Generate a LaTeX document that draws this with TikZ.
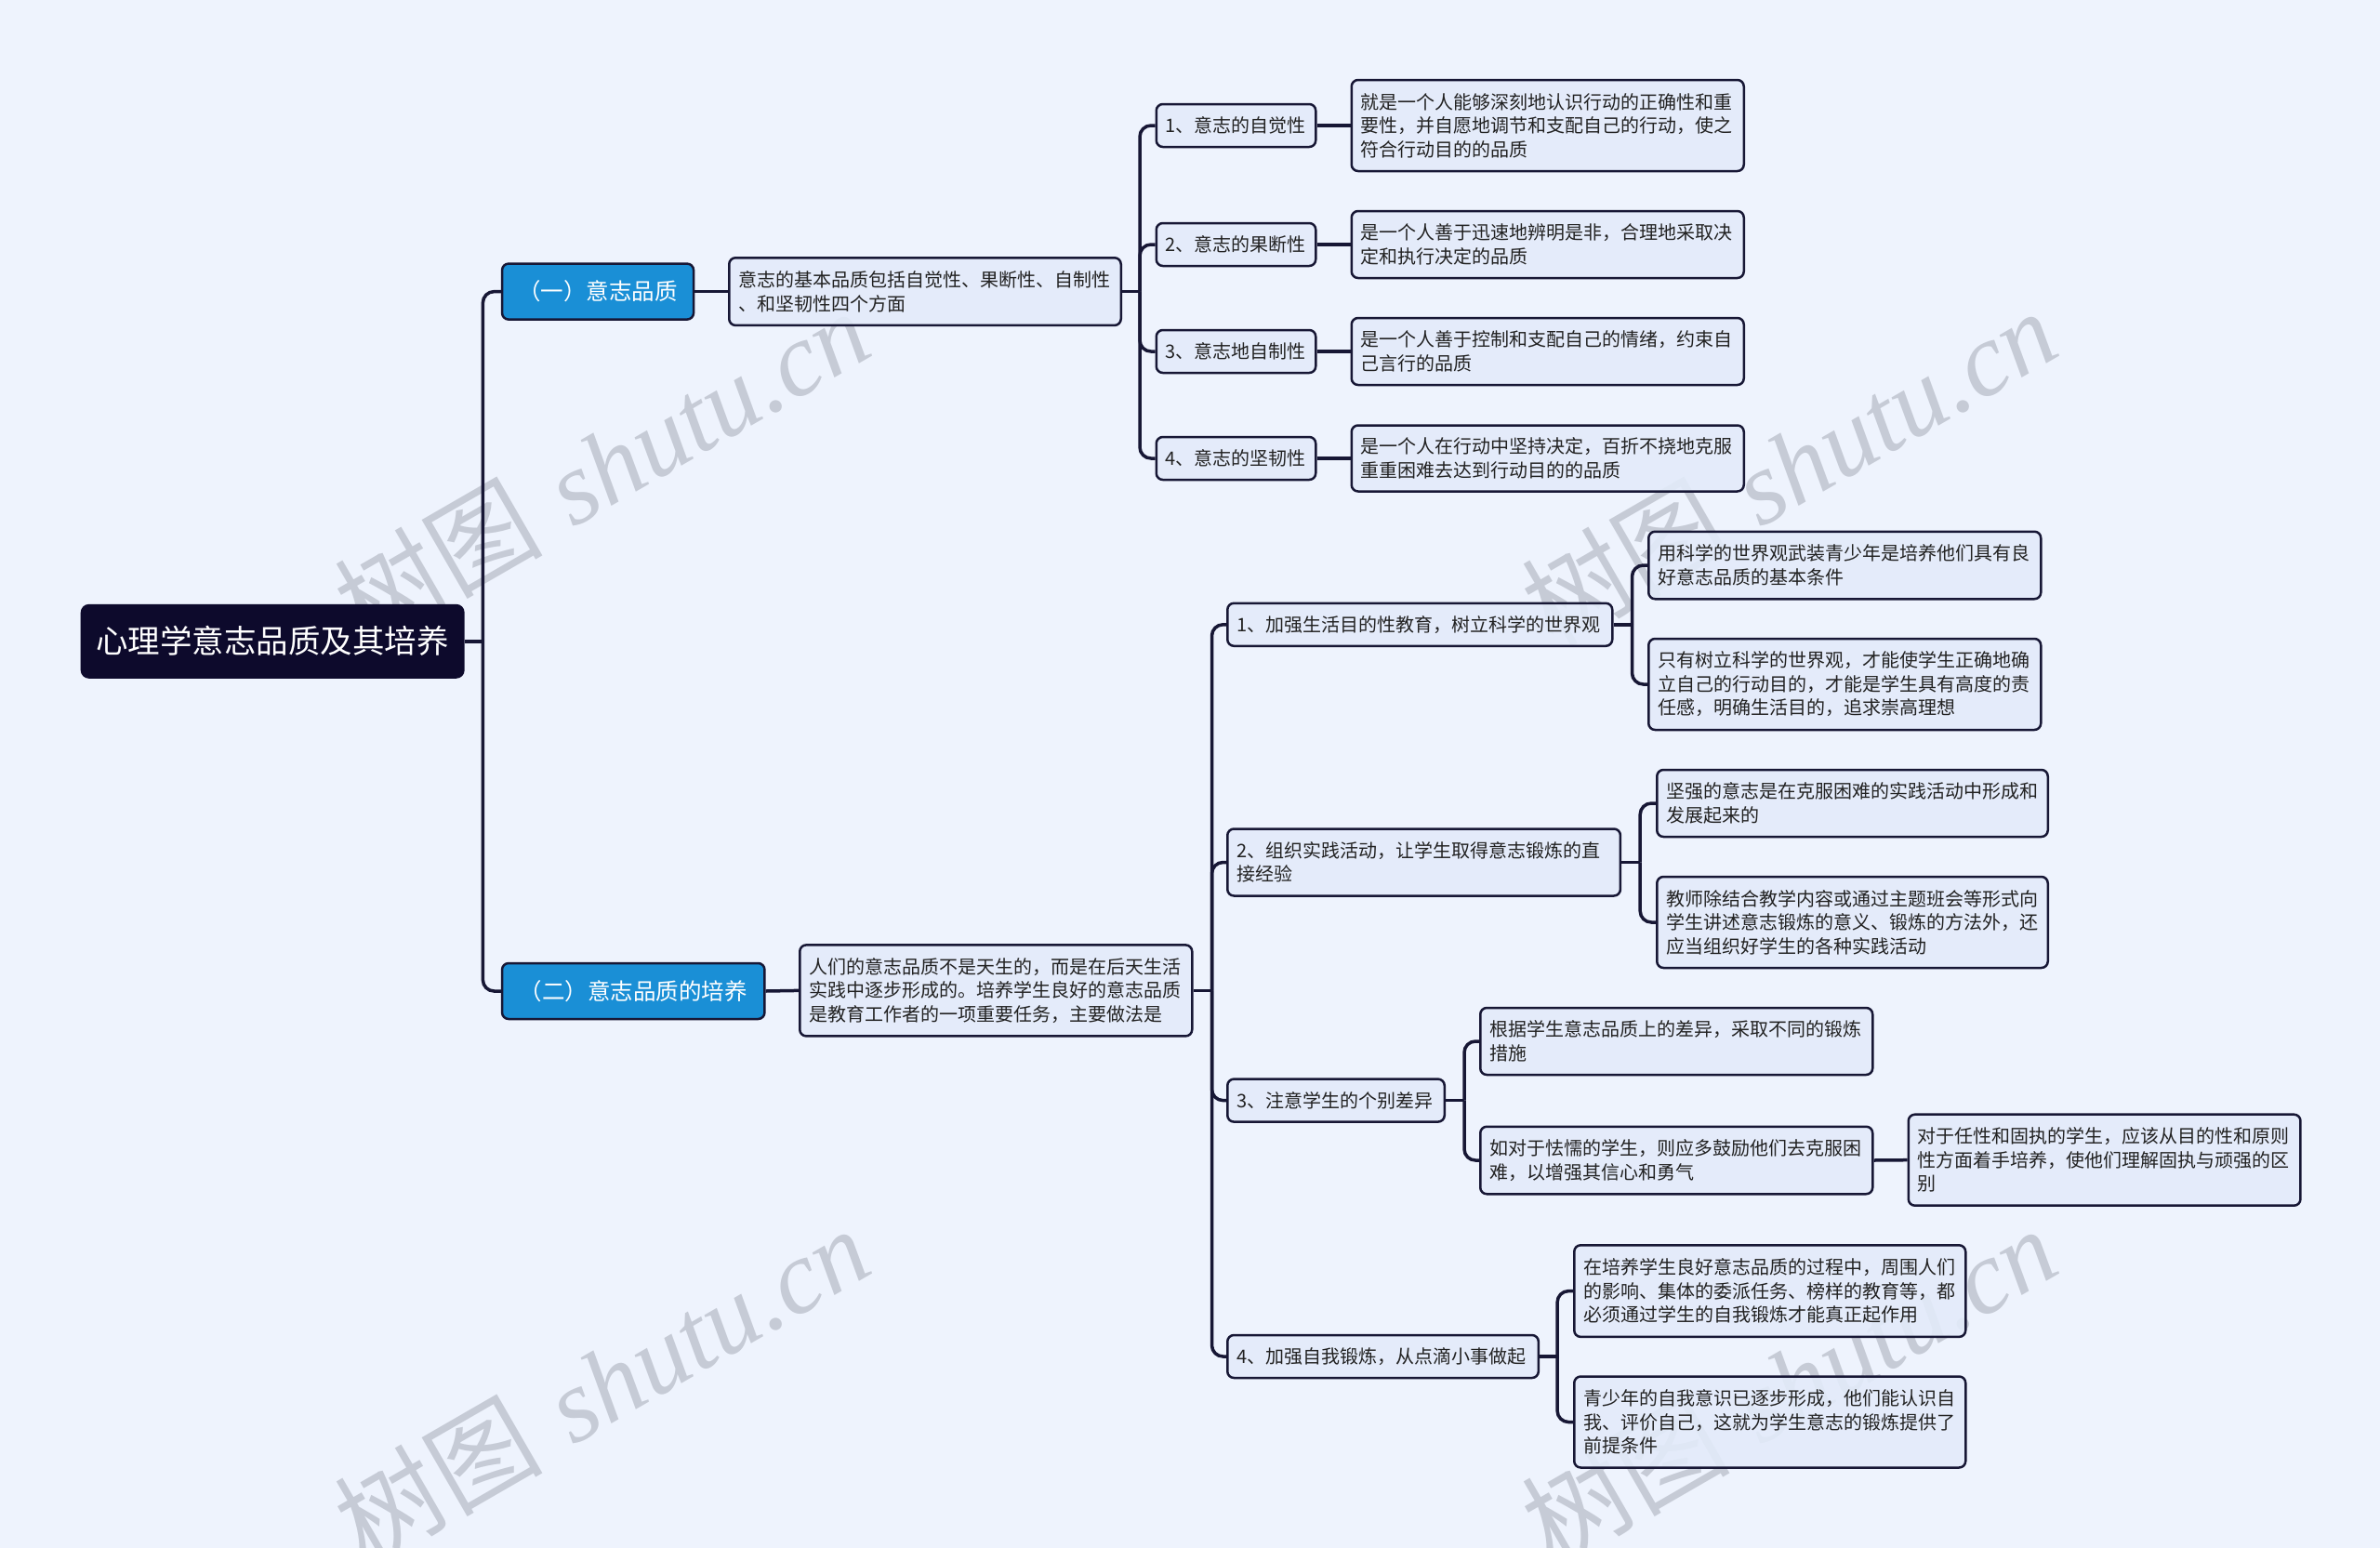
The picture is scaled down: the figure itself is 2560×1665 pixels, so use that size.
\documentclass[tikz,border=0pt]{standalone}
\usepackage{fontspec}
\newfontfamily\cjk{Noto Sans CJK SC}
\newfontfamily\wmserif{Liberation Serif}
\usetikzlibrary{calc}
\definecolor{bgcol}{HTML}{EEF3FD}
\definecolor{boxfill}{HTML}{E3EBFA}
\definecolor{edgecol}{HTML}{171735}
\definecolor{rootcol}{HTML}{0D0A2C}
\definecolor{lonecol}{HTML}{1A8FD6}
\definecolor{textcol}{HTML}{222222}
\definecolor{wmcol}{HTML}{C6CBD6}
\pgfdeclarelayer{bg}
\pgfsetlayers{bg,main}
\tikzset{
  box/.style={draw=edgecol, line width=2.5pt, fill=boxfill, fill opacity=0.88, text opacity=1,
    rounded corners=7pt,
    anchor=west, inner xsep=10pt, inner ysep=0pt, align=left, text=textcol,
    font=\cjk\fontsize{20}{25.5}\selectfont},
  lonebox/.style={draw=edgecol, line width=2.5pt, fill=lonecol, rounded corners=7pt,
    anchor=west, inner xsep=0pt, inner ysep=0pt, align=center, text=white,
    font=\cjk\fontsize{24.5}{28}\selectfont},
  rootbox/.style={fill=rootcol, rounded corners=9pt, anchor=west, inner sep=0pt,
    align=center, text=white, font=\cjk\fontsize{34.5}{40}\selectfont},
  link/.style={draw=edgecol, line width=3.5pt, rounded corners=12pt},
  wmark/.style={rotate=30, text=wmcol, inner sep=0pt,
    font=\fontsize{112}{112}\selectfont}
}
\begin{document}
\begin{tikzpicture}[x=1pt,y=-1pt]
\useasboundingbox (0,0) rectangle (2560,1665);
\begin{pgfonlayer}{bg}
\fill[bgcol] (0,0) rectangle (2560,1665);
% watermarks (behind connectors and boxes)
\node[wmark] (w1) at (647,502) {{\cjk 树图} {\wmserif\itshape shutu.cn}};
\node[wmark] (w2) at (1924,502) {{\cjk 树图} {\wmserif\itshape shutu.cn}};
\node[wmark] (w3) at (647,1489) {{\cjk 树图} {\wmserif\itshape shutu.cn}};
\node[wmark] (w4) at (1924,1489) {{\cjk 树图} {\wmserif\itshape shutu.cn}};
\end{pgfonlayer}

% root and level 1
\node[rootbox, minimum width=413pt, minimum height=80pt] (root) at (86.5,689.8) {心理学意志品质及其培养};
\node[lonebox, minimum width=206pt, minimum height=60pt] (la) at (538.8,313.6) {（一）意志品质};
\node[lonebox, minimum width=282.4pt, minimum height=60pt] (lb) at (538.8,1066) {（二）意志品质的培养};

% branch (一)
\node[box, text width=401.5pt, minimum height=72.7pt] (a0) at (783,313.6) {意志的基本品质包括自觉性、果断性、自制性\\、和坚韧性四个方面};
\node[box, text width=151.5pt, minimum height=46pt] (a1) at (1242.5,135) {1、意志的自觉性};
\node[box, text width=151.5pt, minimum height=46pt] (a2) at (1242.5,263) {2、意志的果断性};
\node[box, text width=151.5pt, minimum height=46pt] (a3) at (1242.5,378) {3、意志地自制性};
\node[box, text width=151.5pt, minimum height=46pt] (a4) at (1242.5,493) {4、意志的坚韧性};
\node[box, text width=402pt, minimum height=98pt] (d1) at (1452.5,135) {就是一个人能够深刻地认识行动的正确性和重\\要性，并自愿地调节和支配自己的行动，使之\\符合行动目的的品质};
\node[box, text width=402pt, minimum height=72pt] (d2) at (1452.5,263) {是一个人善于迅速地辨明是非，合理地采取决\\定和执行决定的品质};
\node[box, text width=402pt, minimum height=72pt] (d3) at (1452.5,378) {是一个人善于控制和支配自己的情绪，约束自\\己言行的品质};
\node[box, text width=402pt, minimum height=71pt] (d4) at (1452.5,493) {是一个人在行动中坚持决定，百折不挠地克服\\重重困难去达到行动目的的品质};

% branch (二)
\node[box, text width=402pt, minimum height=98pt] (b0) at (859,1065.4) {人们的意志品质不是天生的，而是在后天生活\\实践中逐步形成的。培养学生良好的意志品质\\是教育工作者的一项重要任务，主要做法是};
\node[box, text width=394pt, minimum height=46pt] (b1) at (1319,671.8) {1、加强生活目的性教育，树立科学的世界观};
\node[box, text width=402pt, minimum height=72.5pt] (b1a) at (1772,608) {用科学的世界观武装青少年是培养他们具有良\\好意志品质的基本条件};
\node[box, text width=402pt, minimum height=98pt] (b1b) at (1772,736) {只有树立科学的世界观，才能使学生正确地确\\立自己的行动目的，才能是学生具有高度的责\\任感，明确生活目的，追求崇高理想};
\node[box, text width=402.7pt, minimum height=72pt] (b2) at (1319,927.5) {2、组织实践活动，让学生取得意志锻炼的直\\接经验};
\node[box, text width=400.5pt, minimum height=72pt] (b2a) at (1781,864) {坚强的意志是在克服困难的实践活动中形成和\\发展起来的};
\node[box, text width=400.5pt, minimum height=98pt] (b2b) at (1781,992) {教师除结合教学内容或通过主题班会等形式向\\学生讲述意志锻炼的意义、锻炼的方法外，还\\应当组织好学生的各种实践活动};
\node[box, text width=213.5pt, minimum height=46pt] (b3) at (1319,1183.6) {3、注意学生的个别差异};
\node[box, text width=402pt, minimum height=72pt] (b3a) at (1591,1120) {根据学生意志品质上的差异，采取不同的锻炼\\措施};
\node[box, text width=402pt, minimum height=72.5pt] (b3b) at (1591,1248) {如对于怯懦的学生，则应多鼓励他们去克服困\\难，以增强其信心和勇气};
\node[box, text width=401.7pt, minimum height=98pt] (b3c) at (2051.5,1247.7) {对于任性和固执的学生，应该从目的性和原则\\性方面着手培养，使他们理解固执与顽强的区\\别};
\node[box, text width=314.6pt, minimum height=46pt] (b4) at (1319,1459) {4、加强自我锻炼，从点滴小事做起};
\node[box, text width=401pt, minimum height=98.6pt] (b4a) at (1692,1388.6) {在培养学生良好意志品质的过程中，周围人们\\的影响、集体的委派任务、榜样的教育等，都\\必须通过学生的自我锻炼才能真正起作用};
\node[box, text width=401pt, minimum height=98pt] (b4b) at (1692,1529.5) {青少年的自我意识已逐步形成，他们能认识自\\我、评价自己，这就为学生意志的锻炼提供了\\前提条件};

% connectors
\begin{pgfonlayer}{bg}
\draw[link] (root.east) -- ++(19.5,0) coordinate (j0);
\draw[link] (j0) |- (la.west);
\draw[link] (j0) |- (lb.west);
\draw[link] (la.east) -- (a0.west);
\draw[link] (lb.east) -- (b0.west);
\draw[link] (a0.east) -- ++(19,0) coordinate (ja);
\foreach \n in {a1,a2,a3,a4} \draw[link] (ja) |- (\n.west);
\draw[link] (a1.east) -- (d1.west);
\draw[link] (a2.east) -- (d2.west);
\draw[link] (a3.east) -- (d3.west);
\draw[link] (a4.east) -- (d4.west);
\draw[link] (b0.east) -- ++(20,0) coordinate (jb);
\foreach \n in {b1,b2,b3,b4} \draw[link] (jb) |- (\n.west);
\draw[link] (b1.east) -- ++(20,0) coordinate (jb1);
\foreach \n in {b1a,b1b} \draw[link] (jb1) |- (\n.west);
\draw[link] (b2.east) -- ++(20,0) coordinate (jb2);
\foreach \n in {b2a,b2b} \draw[link] (jb2) |- (\n.west);
\draw[link] (b3.east) -- ++(20,0) coordinate (jb3);
\foreach \n in {b3a,b3b} \draw[link] (jb3) |- (\n.west);
\draw[link] (b3b.east) -- (b3c.west);
\draw[link] (b4.east) -- ++(19,0) coordinate (jb4);
\foreach \n in {b4a,b4b} \draw[link] (jb4) |- (\n.west);
\end{pgfonlayer}
\end{tikzpicture}
\end{document}
